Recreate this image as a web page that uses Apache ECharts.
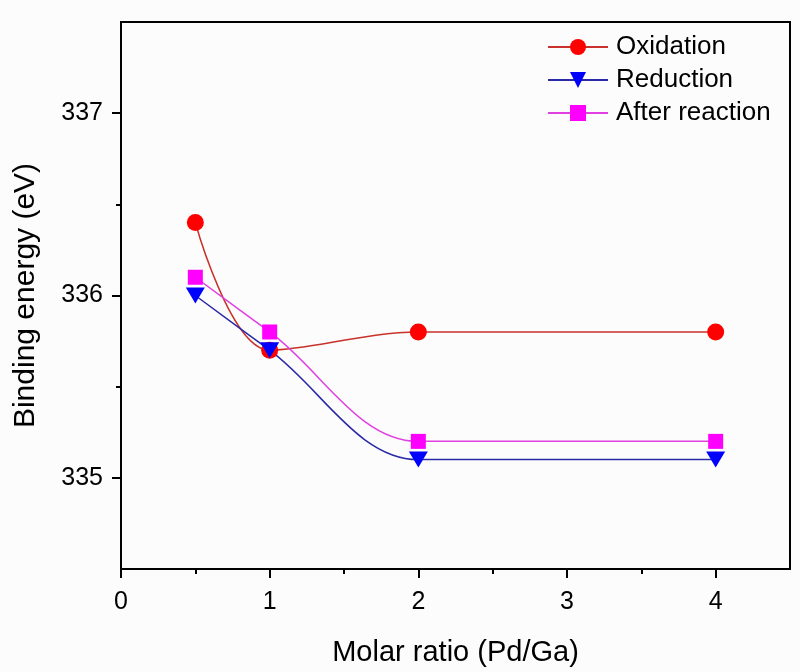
<!DOCTYPE html>
<html>
<head>
<meta charset="utf-8">
<script src="https://cdn.jsdelivr.net/npm/echarts@6/dist/echarts.min.js"></script>
<style>
  html, body { margin: 0; padding: 0; background: #fcfcfc; }
  #chart { width: 800px; height: 672px; }
</style>
</head>
<body>
<div id="chart"></div>
<script>
// molar ratio Pd/Ga
var ratio = [0.5, 1, 2, 4];
var oxidation = [336.4, 335.7, 335.8, 335.8];
var reduction = [336.0, 335.7, 335.1, 335.1];
var afterReaction = [336.1, 335.8, 335.2, 335.2];

var xMajorTicks = [0, 1, 2, 3, 4];
var xMinorTicks = [0.5, 1.5, 2.5, 3.5];
var yMajorTicks = [335, 336, 337];
var yMinorTicks = [335.5, 336.5];

function pairs(ys) {
    return ratio.map(function(x, i) {
        return [x, ys[i]];
    });
}

var font = '"Liberation Sans", Arial, sans-serif';
var chart = echarts.init(document.getElementById('chart'));

var option = {
    backgroundColor: '#fcfcfc',
    animation: false,
    grid: {
        left: 121,
        right: 10,
        top: 22,
        bottom: 103,
        show: true,
        borderColor: '#000',
        borderWidth: 2,
        backgroundColor: 'transparent'
    },
    legend: {
        orient: 'vertical',
        left: 542,
        top: 29,
        itemWidth: 60,
        itemHeight: 20,
        itemGap: 7,
        textStyle: {
            fontFamily: font,
            fontSize: 26,
            color: '#000',
            padding: [0, 0, 0, 3]
        },
        data: ['Oxidation', 'Reduction', 'After reaction']
    },
    xAxis: [{
        type: 'value',
        min: 0,
        max: 4.5,
        interval: 0.5,
        name: 'Molar ratio (Pd/Ga)',
        nameLocation: 'middle',
        nameGap: 69,
        nameTextStyle: { fontFamily: font, fontSize: 29, color: '#000' },
        axisLine: { lineStyle: { color: '#000', width: 2 } },
        axisTick: { customValues: xMajorTicks, length: 9, lineStyle: { color: '#000', width: 2 } },
        axisLabel: { customValues: xMajorTicks, margin: 21, fontFamily: font, fontSize: 25, color: '#000' },
        splitLine: { show: false }
    }, {
        type: 'value',
        position: 'bottom',
        min: 0,
        max: 4.5,
        interval: 0.5,
        axisLine: { show: false },
        axisTick: { customValues: xMinorTicks, length: 5, lineStyle: { color: '#000', width: 2 } },
        axisLabel: { show: false },
        splitLine: { show: false }
    }],
    yAxis: [{
        type: 'value',
        min: 334.5,
        max: 337.5,
        interval: 0.5,
        name: 'Binding energy (eV)',
        nameLocation: 'middle',
        nameGap: 80,
        nameTextStyle: { fontFamily: font, fontSize: 30, color: '#000' },
        axisLine: { lineStyle: { color: '#000', width: 2 } },
        axisTick: { customValues: yMajorTicks, length: 9, lineStyle: { color: '#000', width: 2 } },
        axisLabel: { customValues: yMajorTicks, margin: 18, fontFamily: font, fontSize: 25, color: '#000' },
        splitLine: { show: false }
    }, {
        type: 'value',
        position: 'left',
        min: 334.5,
        max: 337.5,
        interval: 0.5,
        axisLine: { show: false },
        axisTick: { customValues: yMinorTicks, length: 5, lineStyle: { color: '#000', width: 2 } },
        axisLabel: { show: false },
        splitLine: { show: false }
    }],
    series: [{
        name: 'Oxidation',
        type: 'line',
        smooth: 0.35,
        data: pairs(oxidation),
        symbol: 'circle',
        symbolSize: 17,
        itemStyle: { color: '#ff0000' },
        lineStyle: { color: '#c8322a', width: 1.5 }
    }, {
        name: 'Reduction',
        type: 'line',
        smooth: 0.35,
        data: pairs(reduction),
        symbol: 'triangle',
        symbolRotate: 180,
        symbolSize: [19, 16],
        itemStyle: { color: '#0000ff' },
        lineStyle: { color: '#2a2aa8', width: 1.5 }
    }, {
        name: 'After reaction',
        type: 'line',
        smooth: 0.35,
        data: pairs(afterReaction),
        symbol: 'rect',
        symbolSize: 15,
        itemStyle: { color: '#ff00ff' },
        lineStyle: { color: '#e040e0', width: 1.5 }
    }]
};
chart.setOption(option);
</script>
</body>
</html>
